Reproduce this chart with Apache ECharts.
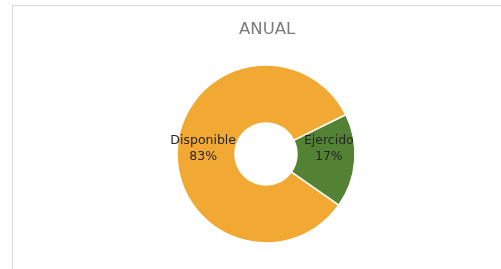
<!DOCTYPE html>
<html>
<head>
    <meta charset="utf-8">
    <title>anual</title>
    <style>
        html, body { margin: 0; padding: 0; background: #fff; }
    </style>
</head>
<body>
    <div id="main" style="width: 501px;height:269px;"></div>
    <script src="https://cdn.jsdelivr.net/npm/echarts@6/dist/echarts.min.js"></script>
    <script type="text/javascript">
        var categories = ['Disponible', 'Ejercido'];
        var values = [83, 17];
        var colors = ['#F2A933', '#548235'];

        var myChart = echarts.init(document.getElementById('main'));
        var option = {
            backgroundColor: '#fff',
            title: {
                text: 'ANUAL',
                left: 234,
                top: 16,
                textStyle: {
                    fontFamily: 'DejaVu Sans',
                    fontSize: 16.5,
                    fontWeight: 'normal',
                    color: '#7a7a7a'
                }
            },
            // marco del gráfico
            graphic: [{
                type: 'rect',
                shape: {x: 12.5, y: 5.5, width: 520, height: 300},
                style: {fill: 'none', stroke: '#d9d9d9', lineWidth: 1},
                silent: true
            }],
            series: [{
                type: 'pie',
                center: [266, 154],
                radius: [31, 89],
                startAngle: -35,
                clockwise: true,
                avoidLabelOverlap: false,
                itemStyle: {borderColor: '#fff', borderWidth: 1.5},
                label: {
                    position: 'inside',
                    formatter: '{b}\n{d}%',
                    fontFamily: 'DejaVu Sans',
                    fontSize: 12.5,
                    lineHeight: 16,
                    color: '#262626'
                },
                labelLine: {show: false},
                data: categories.map(function (name, i) {
                    var item = {name: name, value: values[i], itemStyle: {color: colors[i]}};
                    if (name === 'Ejercido') item.label = {offset: [0, -10]};
                    return item;
                })
            }]
        };
        myChart.setOption(option);
    </script>
</body>
</html>
